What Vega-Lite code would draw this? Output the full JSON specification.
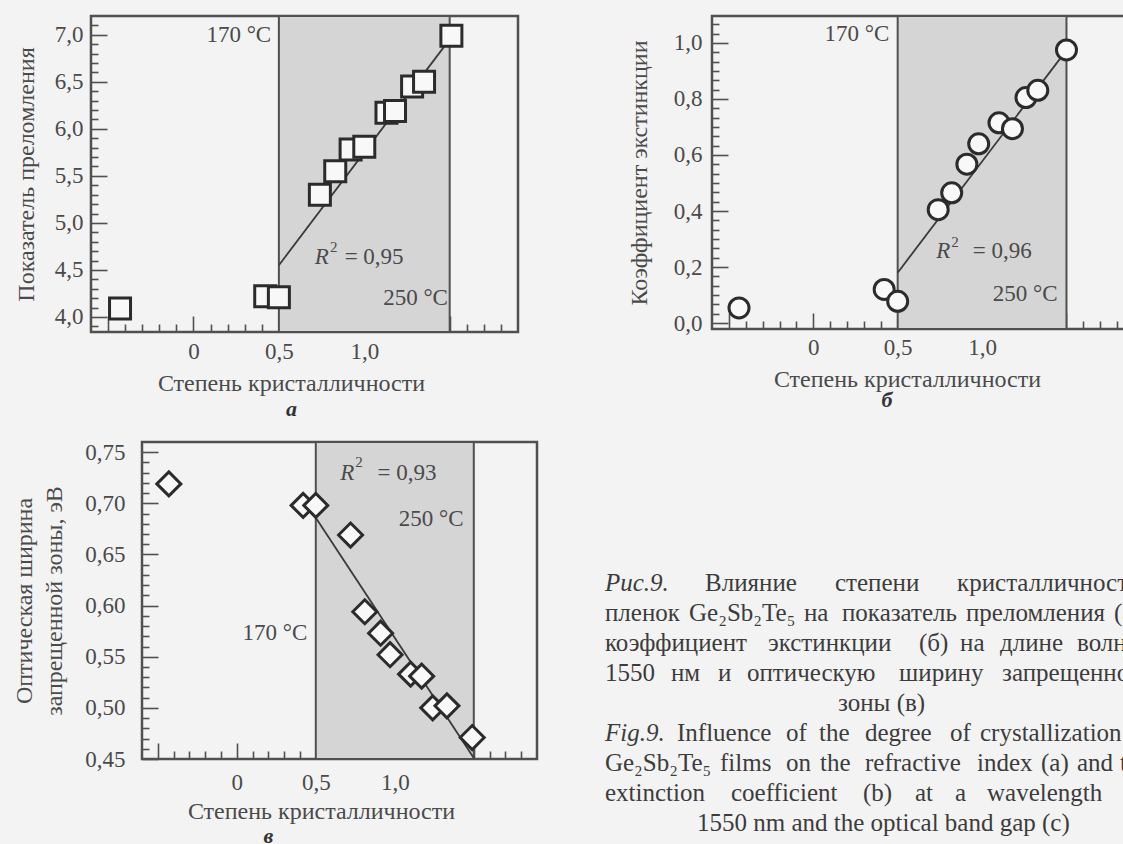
{
  "$schema": "https://vega.github.io/schema/vega-lite/v6.json",
  "autosize": {"type": "pad"},
  "padding": {"left": 10, "top": 13, "right": 0, "bottom": 0},
  "background": "#f3f3f3",
  "config": {
    "view": {"stroke": "#505050", "strokeWidth": 2.5},
    "text": {"font": "Liberation Serif"},
    "axis": {"labelFont": "Liberation Serif", "titleFont": "Liberation Serif", "labelColor": "#4a4a4a", "titleColor": "#4a4a4a", "titleFontWeight": "normal", "labelFontSize": 23, "titleFontSize": 24, "domain": false, "grid": false, "tickColor": "#505050", "tickWidth": 1.6, "labelOverlap": false, "labelFlush": false}
  },
  "spacing": 17,
  "vconcat": [
    {
      "spacing": 105,
      "hconcat": [
        {
          "width": 427,
          "height": 316,
          "title": {"text": "а", "orient": "bottom", "anchor": "middle", "dx": -13, "offset": 4, "font": "Liberation Serif", "fontSize": 22, "fontStyle": "italic", "fontWeight": "bold", "color": "#333333"},
          "resolve": {"axis": {"x": "independent", "y": "independent"}},
          "layer": [
            {
              "data": {"values": [{"x": 0.5, "x2": 1.5}]},
              "mark": {"type": "rect", "fill": "#d5d5d5", "stroke": "#505050", "strokeWidth": 2},
              "encoding": {
                "x": {"field": "x", "type": "quantitative", "scale": {"domain": [-0.6, 1.9], "nice": false, "zero": false}, "axis": null},
                "x2": {"field": "x2"}
              }
            },
            {
              "data": {"values": [{"x": 0.5, "y": 4.55}, {"x": 1.47, "y": 6.88}]},
              "mark": {"type": "line", "color": "#3a3a3a", "strokeWidth": 1.8},
              "encoding": {
                "x": {"field": "x", "type": "quantitative", "scale": {"domain": [-0.6, 1.9], "nice": false, "zero": false},
                  "axis": {"orient": "bottom", "values": [-0.4, -0.3, -0.2, -0.1, 0.1, 0.2, 0.3, 0.4, 0.6, 0.7, 0.8, 0.9, 1.1, 1.2, 1.3, 1.4, 1.6, 1.7, 1.8], "offset": -8, "tickSize": 8, "labels": false, "title": null}},
                "y": {"field": "y", "type": "quantitative", "scale": {"domain": [3.84, 7.2], "nice": false, "zero": false},
                  "axis": {"orient": "left", "values": [3.9, 4.1, 4.2, 4.3, 4.4, 4.6, 4.7, 4.8, 4.9, 5.1, 5.2, 5.3, 5.4, 5.6, 5.7, 5.8, 5.9, 6.1, 6.2, 6.3, 6.4, 6.6, 6.7, 6.8, 6.9, 7.1], "offset": -7, "tickSize": 7, "labels": false, "title": null}}
              }
            },
            {
              "data": {"values": [
                {"x": -0.43, "y": 4.09}, {"x": 0.42, "y": 4.22}, {"x": 0.5, "y": 4.21}, {"x": 0.74, "y": 5.3},
                {"x": 0.83, "y": 5.55}, {"x": 0.92, "y": 5.78}, {"x": 1.0, "y": 5.81}, {"x": 1.13, "y": 6.17},
                {"x": 1.18, "y": 6.19}, {"x": 1.28, "y": 6.45}, {"x": 1.35, "y": 6.5}, {"x": 1.51, "y": 6.99}
              ]},
              "mark": {"type": "point", "shape": "square", "size": 441, "filled": true, "fill": "#f8f8f8", "stroke": "#2b2b2b", "strokeWidth": 3, "opacity": 1},
              "encoding": {
                "x": {"field": "x", "type": "quantitative", "scale": {"domain": [-0.6, 1.9], "nice": false, "zero": false},
                  "axis": {
                    "orient": "bottom",
                    "values": [-0.5, 0, 0.5, 1, 1.5],
                    "offset": -16, "tickSize": 16,
                    "labelExpr": "abs(datum.value)<0.01 ? '0' : abs(datum.value-0.5)<0.01 ? '0,5' : abs(datum.value-1)<0.01 ? '1,0' : ''",
                    "labelPadding": 19, "labelBaseline": "middle",
                    "title": "Степень кристалличности", "titleX": 200, "titleY": 67, "titleBaseline": "middle"
                  }},
                "y": {"field": "y", "type": "quantitative", "scale": {"domain": [3.84, 7.2], "nice": false, "zero": false},
                  "axis": {
                    "orient": "left",
                    "values": [4.0, 4.5, 5.0, 5.5, 6.0, 6.5, 7.0],
                    "offset": -16, "tickSize": 16,
                    "labelExpr": "replace(format(datum.value,'.1f'),'.',',')",
                    "labelPadding": 8, "labelBaseline": "middle",
                    "title": "Показатель преломления", "titleX": -81, "titleBaseline": "middle", "titleAngle": -90
                  }}
              }
            },
            {
              "data": {"values": [{"x": 0.455, "y": 7.0, "t": "170 °C"}, {"x": 1.49, "y": 4.2, "t": "250 °C"}]},
              "mark": {"type": "text", "align": "right", "baseline": "middle", "fontSize": 23, "color": "#4a4a4a"},
              "encoding": {
                "x": {"field": "x", "type": "quantitative", "scale": {"domain": [-0.6, 1.9], "nice": false, "zero": false}, "axis": null},
                "y": {"field": "y", "type": "quantitative", "scale": {"domain": [3.84, 7.2], "nice": false, "zero": false}, "axis": null},
                "text": {"field": "t"}
              }
            },
            {
              "data": {"values": [{"x": 0.71, "y": 4.64, "t": "R"}]},
              "mark": {"type": "text", "align": "left", "baseline": "middle", "fontSize": 23, "fontStyle": "italic", "color": "#4a4a4a"},
              "encoding": {
                "x": {"field": "x", "type": "quantitative", "scale": {"domain": [-0.6, 1.9], "nice": false, "zero": false}, "axis": null},
                "y": {"field": "y", "type": "quantitative", "scale": {"domain": [3.84, 7.2], "nice": false, "zero": false}, "axis": null},
                "text": {"field": "t"}
              }
            },
            {
              "data": {"values": [{"x": 0.8, "y": 4.74, "t": "2"}]},
              "mark": {"type": "text", "align": "left", "baseline": "middle", "fontSize": 15, "color": "#4a4a4a"},
              "encoding": {
                "x": {"field": "x", "type": "quantitative", "scale": {"domain": [-0.6, 1.9], "nice": false, "zero": false}, "axis": null},
                "y": {"field": "y", "type": "quantitative", "scale": {"domain": [3.84, 7.2], "nice": false, "zero": false}, "axis": null},
                "text": {"field": "t"}
              }
            },
            {
              "data": {"values": [{"x": 0.885, "y": 4.64, "t": "= 0,95"}]},
              "mark": {"type": "text", "align": "left", "baseline": "middle", "fontSize": 23, "color": "#4a4a4a"},
              "encoding": {
                "x": {"field": "x", "type": "quantitative", "scale": {"domain": [-0.6, 1.9], "nice": false, "zero": false}, "axis": null},
                "y": {"field": "y", "type": "quantitative", "scale": {"domain": [3.84, 7.2], "nice": false, "zero": false}, "axis": null},
                "text": {"field": "t"}
              }
            }
          ]
        },
        {
          "width": 422,
          "height": 313,
          "title": {"text": "б", "orient": "bottom", "anchor": "middle", "dx": -36, "offset": -1, "font": "Liberation Serif", "fontSize": 22, "fontStyle": "italic", "fontWeight": "bold", "color": "#333333"},
          "resolve": {"axis": {"x": "independent", "y": "independent"}},
          "layer": [
            {
              "data": {"values": [{"x": 0.5, "x2": 1.5}]},
              "mark": {"type": "rect", "fill": "#d5d5d5", "stroke": "#505050", "strokeWidth": 2},
              "encoding": {
                "x": {"field": "x", "type": "quantitative", "scale": {"domain": [-0.6, 1.9], "nice": false, "zero": false}, "axis": null},
                "x2": {"field": "x2"}
              }
            },
            {
              "data": {"values": [{"x": 0.5, "y": 0.18}, {"x": 1.47, "y": 0.95}]},
              "mark": {"type": "line", "color": "#3a3a3a", "strokeWidth": 1.8},
              "encoding": {
                "x": {"field": "x", "type": "quantitative", "scale": {"domain": [-0.6, 1.9], "nice": false, "zero": false},
                  "axis": {"orient": "bottom", "values": [-0.4, -0.3, -0.2, -0.1, 0.1, 0.2, 0.3, 0.4, 0.6, 0.7, 0.8, 0.9, 1.1, 1.2, 1.3, 1.4, 1.6, 1.7, 1.8], "offset": -8, "tickSize": 8, "labels": false, "title": null}},
                "y": {"field": "y", "type": "quantitative", "scale": {"domain": [-0.021, 1.096], "nice": false, "zero": false},
                  "axis": {"orient": "left", "values": [0.0333, 0.0667, 0.1, 0.1333, 0.1667, 0.2333, 0.2667, 0.3, 0.3333, 0.3667, 0.4333, 0.4667, 0.5, 0.5333, 0.5667, 0.6333, 0.6667, 0.7, 0.7333, 0.7667, 0.8333, 0.8667, 0.9, 0.9333, 0.9667, 1.0333, 1.0667], "offset": -7, "tickSize": 7, "labels": false, "title": null}}
              }
            },
            {
              "data": {"values": [
                {"x": -0.44, "y": 0.054}, {"x": 0.42, "y": 0.12}, {"x": 0.5, "y": 0.078}, {"x": 0.74, "y": 0.405},
                {"x": 0.82, "y": 0.465}, {"x": 0.91, "y": 0.567}, {"x": 0.98, "y": 0.64}, {"x": 1.1, "y": 0.715},
                {"x": 1.18, "y": 0.694}, {"x": 1.26, "y": 0.805}, {"x": 1.33, "y": 0.831}, {"x": 1.5, "y": 0.975}
              ]},
              "mark": {"type": "point", "shape": "circle", "size": 400, "filled": true, "fill": "#f8f8f8", "stroke": "#2b2b2b", "strokeWidth": 3, "opacity": 1},
              "encoding": {
                "x": {"field": "x", "type": "quantitative", "scale": {"domain": [-0.6, 1.9], "nice": false, "zero": false},
                  "axis": {
                    "orient": "bottom",
                    "values": [-0.5, 0, 0.5, 1, 1.5],
                    "offset": -16, "tickSize": 16,
                    "labelExpr": "abs(datum.value)<0.01 ? '0' : abs(datum.value-0.5)<0.01 ? '0,5' : abs(datum.value-1)<0.01 ? '1,0' : ''",
                    "labelPadding": 18, "labelBaseline": "middle",
                    "title": "Степень кристалличности", "titleX": 195, "titleY": 66, "titleBaseline": "middle"
                  }},
                "y": {"field": "y", "type": "quantitative", "scale": {"domain": [-0.021, 1.096], "nice": false, "zero": false},
                  "axis": {
                    "orient": "left",
                    "values": [0, 0.2, 0.4, 0.6, 0.8, 1.0],
                    "offset": -16, "tickSize": 16,
                    "labelExpr": "replace(format(datum.value,'.1f'),'.',',')",
                    "labelPadding": 10, "labelBaseline": "middle",
                    "title": "Коэффициент экстинкции", "titleX": -89, "titleBaseline": "middle", "titleAngle": -90
                  }}
              }
            },
            {
              "data": {"values": [{"x": 0.45, "y": 1.032, "t": "170 °C"}, {"x": 1.447, "y": 0.105, "t": "250 °C"}]},
              "mark": {"type": "text", "align": "right", "baseline": "middle", "fontSize": 23, "color": "#4a4a4a"},
              "encoding": {
                "x": {"field": "x", "type": "quantitative", "scale": {"domain": [-0.6, 1.9], "nice": false, "zero": false}, "axis": null},
                "y": {"field": "y", "type": "quantitative", "scale": {"domain": [-0.021, 1.096], "nice": false, "zero": false}, "axis": null},
                "text": {"field": "t"}
              }
            },
            {
              "data": {"values": [{"x": 0.728, "y": 0.257, "t": "R"}]},
              "mark": {"type": "text", "align": "left", "baseline": "middle", "fontSize": 23, "fontStyle": "italic", "color": "#4a4a4a"},
              "encoding": {
                "x": {"field": "x", "type": "quantitative", "scale": {"domain": [-0.6, 1.9], "nice": false, "zero": false}, "axis": null},
                "y": {"field": "y", "type": "quantitative", "scale": {"domain": [-0.021, 1.096], "nice": false, "zero": false}, "axis": null},
                "text": {"field": "t"}
              }
            },
            {
              "data": {"values": [{"x": 0.817, "y": 0.289, "t": "2"}]},
              "mark": {"type": "text", "align": "left", "baseline": "middle", "fontSize": 15, "color": "#4a4a4a"},
              "encoding": {
                "x": {"field": "x", "type": "quantitative", "scale": {"domain": [-0.6, 1.9], "nice": false, "zero": false}, "axis": null},
                "y": {"field": "y", "type": "quantitative", "scale": {"domain": [-0.021, 1.096], "nice": false, "zero": false}, "axis": null},
                "text": {"field": "t"}
              }
            },
            {
              "data": {"values": [{"x": 0.945, "y": 0.257, "t": "= 0,96"}]},
              "mark": {"type": "text", "align": "left", "baseline": "middle", "fontSize": 23, "color": "#4a4a4a"},
              "encoding": {
                "x": {"field": "x", "type": "quantitative", "scale": {"domain": [-0.6, 1.9], "nice": false, "zero": false}, "axis": null},
                "y": {"field": "y", "type": "quantitative", "scale": {"domain": [-0.021, 1.096], "nice": false, "zero": false}, "axis": null},
                "text": {"field": "t"}
              }
            }
          ]
        }
      ]
    },
    {
      "spacing": -82,
      "hconcat": [
        {
          "width": 1,
          "height": 10,
          "view": {"stroke": null},
          "data": {"values": [{"t": ""}]},
          "mark": {"type": "text", "opacity": 0},
          "encoding": {"text": {"field": "t"}}
        },
        {
          "width": 395,
          "height": 317,
          "title": {"text": "в", "orient": "bottom", "anchor": "middle", "dx": -71, "offset": 3, "font": "Liberation Serif", "fontSize": 22, "fontStyle": "italic", "fontWeight": "bold", "color": "#333333"},
          "resolve": {"axis": {"x": "independent", "y": "independent"}},
          "layer": [
            {
              "data": {"values": [{"x": 0.5, "x2": 1.5}]},
              "mark": {"type": "rect", "fill": "#d5d5d5", "stroke": "#505050", "strokeWidth": 2},
              "encoding": {
                "x": {"field": "x", "type": "quantitative", "scale": {"domain": [-0.6, 1.9], "nice": false, "zero": false}, "axis": null},
                "x2": {"field": "x2"}
              }
            },
            {
              "data": {"values": [{"x": 0.5, "y": 0.686}, {"x": 1.5, "y": 0.451}]},
              "mark": {"type": "line", "color": "#3a3a3a", "strokeWidth": 1.8},
              "encoding": {
                "x": {"field": "x", "type": "quantitative", "scale": {"domain": [-0.6, 1.9], "nice": false, "zero": false},
                  "axis": {"orient": "bottom", "values": [-0.4, -0.3, -0.2, -0.1, 0.1, 0.2, 0.3, 0.4, 0.6, 0.7, 0.8, 0.9, 1.1, 1.2, 1.3, 1.4, 1.6, 1.7, 1.8], "offset": -8, "tickSize": 8, "labels": false, "title": null}},
                "y": {"field": "y", "type": "quantitative", "scale": {"domain": [0.45, 0.76], "nice": false, "zero": false},
                  "axis": {"orient": "left", "values": [0.46, 0.47, 0.48, 0.49, 0.51, 0.52, 0.53, 0.54, 0.56, 0.57, 0.58, 0.59, 0.61, 0.62, 0.63, 0.64, 0.66, 0.67, 0.68, 0.69, 0.71, 0.72, 0.73, 0.74], "offset": -7, "tickSize": 7, "labels": false, "title": null}}
              }
            },
            {
              "data": {"values": [
                {"x": -0.43, "y": 0.719}, {"x": 0.42, "y": 0.698}, {"x": 0.5, "y": 0.698}, {"x": 0.72, "y": 0.669},
                {"x": 0.81, "y": 0.594}, {"x": 0.91, "y": 0.573}, {"x": 0.97, "y": 0.552}, {"x": 1.1, "y": 0.533},
                {"x": 1.17, "y": 0.531}, {"x": 1.24, "y": 0.5}, {"x": 1.33, "y": 0.502}, {"x": 1.49, "y": 0.471}
              ]},
              "mark": {"type": "point", "shape": "diamond", "size": 576, "filled": true, "fill": "#f8f8f8", "stroke": "#2b2b2b", "strokeWidth": 3, "opacity": 1},
              "encoding": {
                "x": {"field": "x", "type": "quantitative", "scale": {"domain": [-0.6, 1.9], "nice": false, "zero": false},
                  "axis": {
                    "orient": "bottom",
                    "values": [-0.5, 0, 0.5, 1, 1.5],
                    "offset": -16, "tickSize": 16,
                    "labelExpr": "abs(datum.value)<0.01 ? '0' : abs(datum.value-0.5)<0.01 ? '0,5' : abs(datum.value-1)<0.01 ? '1,0' : ''",
                    "labelPadding": 23, "labelBaseline": "middle",
                    "title": "Степень кристалличности", "titleX": 179, "titleY": 68, "titleBaseline": "middle"
                  }},
                "y": {"field": "y", "type": "quantitative", "scale": {"domain": [0.45, 0.76], "nice": false, "zero": false},
                  "axis": {
                    "orient": "left",
                    "values": [0.45, 0.5, 0.55, 0.6, 0.65, 0.7, 0.75],
                    "offset": -16, "tickSize": 16,
                    "labelExpr": "replace(format(datum.value,'.2f'),'.',',')",
                    "labelPadding": 17, "labelBaseline": "middle",
                    "title": ["Оптическая ширина", "запрещенной зоны, эВ"], "titleX": -134, "titleBaseline": "middle", "titleAngle": -90, "titleLineHeight": 30
                  }}
              }
            },
            {
              "data": {"values": [{"x": 0.446, "y": 0.573, "t": "170 °C"}, {"x": 1.435, "y": 0.685, "t": "250 °C"}]},
              "mark": {"type": "text", "align": "right", "baseline": "middle", "fontSize": 23, "color": "#4a4a4a"},
              "encoding": {
                "x": {"field": "x", "type": "quantitative", "scale": {"domain": [-0.6, 1.9], "nice": false, "zero": false}, "axis": null},
                "y": {"field": "y", "type": "quantitative", "scale": {"domain": [0.45, 0.76], "nice": false, "zero": false}, "axis": null},
                "text": {"field": "t"}
              }
            },
            {
              "data": {"values": [{"x": 0.655, "y": 0.73, "t": "R"}]},
              "mark": {"type": "text", "align": "left", "baseline": "middle", "fontSize": 23, "fontStyle": "italic", "color": "#4a4a4a"},
              "encoding": {
                "x": {"field": "x", "type": "quantitative", "scale": {"domain": [-0.6, 1.9], "nice": false, "zero": false}, "axis": null},
                "y": {"field": "y", "type": "quantitative", "scale": {"domain": [0.45, 0.76], "nice": false, "zero": false}, "axis": null},
                "text": {"field": "t"}
              }
            },
            {
              "data": {"values": [{"x": 0.75, "y": 0.74, "t": "2"}]},
              "mark": {"type": "text", "align": "left", "baseline": "middle", "fontSize": 15, "color": "#4a4a4a"},
              "encoding": {
                "x": {"field": "x", "type": "quantitative", "scale": {"domain": [-0.6, 1.9], "nice": false, "zero": false}, "axis": null},
                "y": {"field": "y", "type": "quantitative", "scale": {"domain": [0.45, 0.76], "nice": false, "zero": false}, "axis": null},
                "text": {"field": "t"}
              }
            },
            {
              "data": {"values": [{"x": 0.891, "y": 0.73, "t": "= 0,93"}]},
              "mark": {"type": "text", "align": "left", "baseline": "middle", "fontSize": 23, "color": "#4a4a4a"},
              "encoding": {
                "x": {"field": "x", "type": "quantitative", "scale": {"domain": [-0.6, 1.9], "nice": false, "zero": false}, "axis": null},
                "y": {"field": "y", "type": "quantitative", "scale": {"domain": [0.45, 0.76], "nice": false, "zero": false}, "axis": null},
                "text": {"field": "t"}
              }
            }
          ]
        },
        {
          "width": 589,
          "height": 400,
          "view": {"stroke": null},
          "data": {"values": [
            {"ln": 1, "p": 0.112, "t": "Рис.9.", "s": "i"},
            {"ln": 1, "p": 0.2818, "t": "Влияние", "s": "n"},
            {"ln": 1, "p": 0.5025, "t": "степени", "s": "n"},
            {"ln": 1, "p": 0.7097, "t": "кристалличности", "s": "n"},
            {"ln": 2, "p": 0.112, "t": "пленок", "s": "n"},
            {"ln": 2, "p": 0.2547, "t": "Ge₂Sb₂Te₅", "s": "n"},
            {"ln": 2, "p": 0.4499, "t": "на", "s": "n"},
            {"ln": 2, "p": 0.5144, "t": "показатель", "s": "n"},
            {"ln": 2, "p": 0.7249, "t": "преломления", "s": "n"},
            {"ln": 2, "p": 0.9762, "t": "(а)", "s": "n"},
            {"ln": 3, "p": 0.112, "t": "коэффициент", "s": "n"},
            {"ln": 3, "p": 0.3888, "t": "экстинкции", "s": "n"},
            {"ln": 3, "p": 0.6451, "t": "(б)", "s": "n"},
            {"ln": 3, "p": 0.7148, "t": "на", "s": "n"},
            {"ln": 3, "p": 0.7827, "t": "длине", "s": "n"},
            {"ln": 3, "p": 0.9134, "t": "волны", "s": "n"},
            {"ln": 4, "p": 0.112, "t": "1550", "s": "n"},
            {"ln": 4, "p": 0.2241, "t": "нм", "s": "n"},
            {"ln": 4, "p": 0.3039, "t": "и", "s": "n"},
            {"ln": 4, "p": 0.3531, "t": "оптическую", "s": "n"},
            {"ln": 4, "p": 0.6112, "t": "ширину", "s": "n"},
            {"ln": 4, "p": 0.7861, "t": "запрещенной", "s": "n"},
            {"ln": 5, "p": 0.5076, "t": "зоны (в)", "s": "n"},
            {"ln": 6, "p": 0.112, "t": "Fig.9.", "s": "i"},
            {"ln": 6, "p": 0.2343, "t": "Influence", "s": "n"},
            {"ln": 6, "p": 0.4193, "t": "of", "s": "n"},
            {"ln": 6, "p": 0.4754, "t": "the", "s": "n"},
            {"ln": 6, "p": 0.5535, "t": "degree", "s": "n"},
            {"ln": 6, "p": 0.6978, "t": "of", "s": "n"},
            {"ln": 6, "p": 0.7487, "t": "crystallization", "s": "n"},
            {"ln": 7, "p": 0.112, "t": "Ge₂Sb₂Te₅", "s": "n"},
            {"ln": 7, "p": 0.3073, "t": "films", "s": "n"},
            {"ln": 7, "p": 0.4193, "t": "on", "s": "n"},
            {"ln": 7, "p": 0.4771, "t": "the", "s": "n"},
            {"ln": 7, "p": 0.5535, "t": "refractive", "s": "n"},
            {"ln": 7, "p": 0.7436, "t": "index", "s": "n"},
            {"ln": 7, "p": 0.8523, "t": "(a)", "s": "n"},
            {"ln": 7, "p": 0.9134, "t": "and", "s": "n"},
            {"ln": 7, "p": 0.9864, "t": "the", "s": "n"},
            {"ln": 8, "p": 0.112, "t": "extinction", "s": "n"},
            {"ln": 8, "p": 0.326, "t": "coefficient", "s": "n"},
            {"ln": 8, "p": 0.5501, "t": "(b)", "s": "n"},
            {"ln": 8, "p": 0.6384, "t": "at", "s": "n"},
            {"ln": 8, "p": 0.7063, "t": "a", "s": "n"},
            {"ln": 8, "p": 0.7606, "t": "wavelength", "s": "n"},
            {"ln": 9, "p": 0.2682, "t": "1550 nm and the optical band gap (c)", "s": "n"}
          ]},
          "layer": [
            {
              "transform": [{"filter": "datum.s == 'n'"}],
              "mark": {"type": "text", "align": "left", "baseline": "middle", "fontSize": 25, "color": "#3c3c3c"},
              "encoding": {
                "x": {"field": "p", "type": "quantitative", "scale": {"domain": [0, 1], "nice": false, "zero": false}, "axis": null},
                "y": {"field": "ln", "type": "quantitative", "scale": {"domain": [-3.7, 9.633], "nice": false, "zero": false, "reverse": true}, "axis": null},
                "text": {"field": "t"}
              }
            },
            {
              "transform": [{"filter": "datum.s == 'i'"}],
              "mark": {"type": "text", "align": "left", "baseline": "middle", "fontSize": 25, "fontStyle": "italic", "color": "#3c3c3c"},
              "encoding": {
                "x": {"field": "p", "type": "quantitative", "scale": {"domain": [0, 1], "nice": false, "zero": false}, "axis": null},
                "y": {"field": "ln", "type": "quantitative", "scale": {"domain": [-3.7, 9.633], "nice": false, "zero": false, "reverse": true}, "axis": null},
                "text": {"field": "t"}
              }
            }
          ]
        }
      ]
    }
  ]
}
